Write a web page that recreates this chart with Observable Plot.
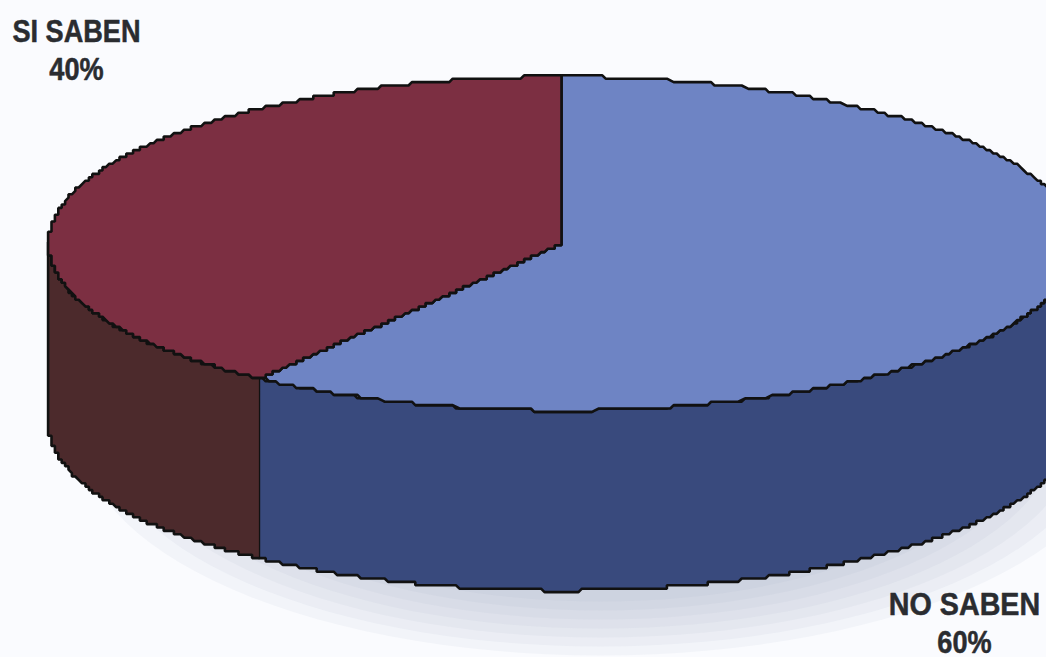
<!DOCTYPE html>
<html>
<head>
<meta charset="utf-8">
<script src="https://cdn.jsdelivr.net/npm/d3@7"></script>
<script src="https://cdn.jsdelivr.net/npm/@observablehq/plot@0.6"></script>
<style>
html,body{margin:0;padding:0;background:#fafbfe;overflow:hidden}
svg{display:block}
</style>
</head>
<body>
<div id="chart"></div>
<script>
const categories = ["NO SABEN", "SI SABEN"];
const shares = [60, 40];
const percentLabels = ["60%", "40%"];
const topColors = ["#6e84c4", "#7c2f42"];
const sideColors = ["#394a7d", "#4c2a2c"];
const labelX = [964, 76];
const labelY = [605, 32];

const W = 1046, H = 657;
const cx = 562, cy = 243, rx = 514, ry = 167, depth = 180, grid = 3.4;
const q = v => Math.round(v / grid) * grid;
const pt = (deg, dy = 0) => {
  const a = deg * Math.PI / 180;
  return {x: q(cx + rx * Math.sin(a)), y: q(cy - ry * Math.cos(a) + dy)};
};
const arc = (a0, a1, dy = 0) => d3.range(0, 401).map(i => pt(a0 + (a1 - a0) * i / 400, dy));
const spoke = (a, rev) => {
  const a2 = a * Math.PI / 180;
  const ex = cx + rx * Math.sin(a2), ey = cy - ry * Math.cos(a2);
  const pts = d3.range(0, 201).map(i => ({x: q(cx + (ex - cx) * i / 200), y: q(cy + (ey - cy) * i / 200)}));
  return rev ? pts.reverse() : pts;
};

let acc = 0;
const slices = categories.map((name, i) => {
  const a0 = acc * 3.6; acc += shares[i]; const a1 = acc * 3.6;
  return {name, i, a0, a1};
});
const tops = slices.flatMap(s =>
  [...spoke(s.a0), ...arc(s.a0, s.a1), ...spoke(s.a1, true)].map(p => ({...p, z: s.name, fill: topColors[s.i]})));
const sides = slices.flatMap(s => {
  const lo = Math.max(s.a0, 90), hi = Math.min(s.a1, 270);
  if (hi <= lo) return [];
  return [...arc(lo, hi), ...arc(hi, lo, depth)].map(p => ({...p, z: s.name, fill: sideColors[s.i]}));
});
const shadow = [1, 0.96, 0.92, 0.88, 0.84, 0.8, 0.76].flatMap(k => d3.range(0, 361, 3).map(d => {
  const a = d * Math.PI / 180;
  return {x: 600 + 520 * k * Math.sin(a), y: 430 - 225 * k * Math.cos(a), z: k};
}));
const labels = categories.flatMap((c, i) => [
  {text: c, x: labelX[i], y: labelY[i]},
  {text: percentLabels[i], x: labelX[i], y: labelY[i] + 38}
]);

const chart = Plot.plot({
  width: W, height: H,
  margin: 0,
  style: {background: "transparent", overflow: "hidden"},
  x: {domain: [0, W], range: [0, W], axis: null},
  y: {domain: [0, H], range: [0, H], axis: null},
  marks: [
    Plot.line(shadow, {x: "x", y: "y", z: "z", fill: "#9aa3bb", fillOpacity: 0.075, stroke: "none"}),
    Plot.line(sides, {x: "x", y: "y", z: "z", fill: "fill", stroke: "#111", strokeWidth: 2.6, strokeLinejoin: "miter"}),
    Plot.line(tops, {x: "x", y: "y", z: "z", fill: "fill", stroke: "#111", strokeWidth: 2.6, strokeLinejoin: "miter"}),
    Plot.text(labels, {x: "x", y: "y", text: "text", fontSize: 31, fontWeight: 700,
      fontFamily: "'Liberation Sans',Arial,sans-serif", fill: "#2a2c30", stroke: "#2a2c30", strokeWidth: 0.5, textAnchor: "middle"})
  ]
});
document.getElementById("chart").appendChild(chart);
chart.querySelectorAll("text").forEach(t => {
  const squeeze = t.textContent === "NO SABEN" ? 0.925 : 0.875;
  t.setAttribute("textLength", (t.getComputedTextLength() * squeeze).toFixed(1));
  t.setAttribute("lengthAdjust", "spacingAndGlyphs");
});
</script>
</body>
</html>
